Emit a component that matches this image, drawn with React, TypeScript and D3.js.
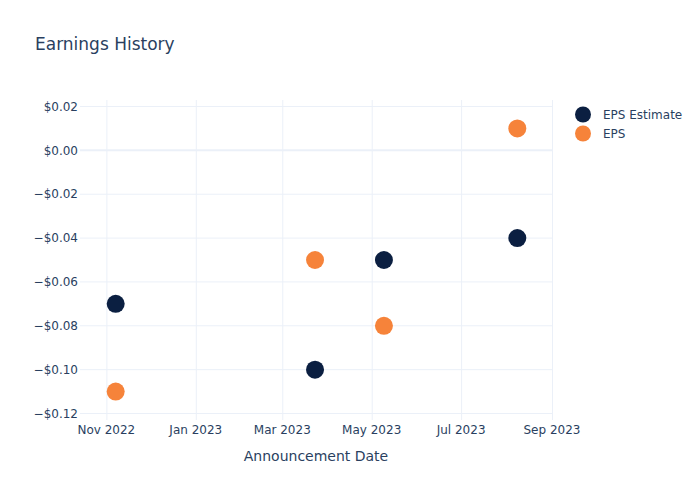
import * as d3 from "d3";

const WIDTH = 700;
const HEIGHT = 500;
const PLOT = { left: 80, right: 552, top: 100, bottom: 420 };

const announcementDates = ["2022-11-07", "2023-03-23", "2023-05-09", "2023-08-08"];
const epsEstimate = [-0.07, -0.1, -0.05, -0.04];
const epsActual = [-0.11, -0.05, -0.08, 0.01];

const yTicks = [0.02, 0, -0.02, -0.04, -0.06, -0.08, -0.1, -0.12];
const xTicks = ["2022-11-01", "2023-01-01", "2023-03-01", "2023-05-01", "2023-07-01", "2023-09-01"];

const ESTIMATE_COLOR = "#0b1f41";
const EPS_COLOR = "#f6833a";
const TEXT_COLOR = "#2a3f5f";
const GRID_COLOR = "#ebf0f8";

const parse = d3.utcParse("%Y-%m-%d");

const series = [
  { name: "EPS Estimate", values: epsEstimate, color: ESTIMATE_COLOR },
  { name: "EPS", values: epsActual, color: EPS_COLOR },
];

const fmtMoney = (v: number) => {
  const s = "$" + Math.abs(v).toFixed(2);
  return v < -1e-9 ? "\u2212" + s : s;
};

export default function App() {
  const xScale = d3
    .scaleUtc()
    .domain([parse("2022-10-14")!, parse("2023-09-01")!])
    .range([PLOT.left, PLOT.right]);

  const yScale = d3
    .scaleLinear()
    .domain([-0.12319, 0.02274])
    .range([PLOT.bottom, PLOT.top]);

  const fmtDate = d3.utcFormat("%b %Y");

  return (
    <svg
      width={WIDTH}
      height={HEIGHT}
      style={{ position: "absolute", left: 0, top: 0, fontFamily: "'DejaVu Sans', sans-serif" }}
    >
      <rect width={WIDTH} height={HEIGHT} fill="#fff" />
      <text x={35} y={50} fontSize={17} fill={TEXT_COLOR}>
        Earnings History
      </text>

      {/* grid */}
      {xTicks.map((t) => {
        const x = xScale(parse(t)!) + 0.5;
        return (
          <line key={t} x1={x} x2={x} y1={PLOT.top} y2={PLOT.bottom} stroke={GRID_COLOR} strokeWidth={1} />
        );
      })}
      {yTicks.map((t) => {
        const y = yScale(t) + 0.5;
        return (
          <line
            key={t}
            x1={PLOT.left}
            x2={PLOT.right}
            y1={y}
            y2={y}
            stroke={GRID_COLOR}
            strokeWidth={t === 0 ? 2 : 1}
          />
        );
      })}

      {/* y tick labels */}
      {yTicks.map((t) => (
        <text
          key={t}
          x={PLOT.left - 2}
          y={yScale(t) + 0.5}
          dy="0.35em"
          textAnchor="end"
          fontSize={12}
          fill={TEXT_COLOR}
        >
          {fmtMoney(t)}
        </text>
      ))}

      {/* x tick labels */}
      {xTicks.map((t) => (
        <text
          key={t}
          x={xScale(parse(t)!)}
          y={PLOT.bottom + 14}
          textAnchor="middle"
          fontSize={12}
          fill={TEXT_COLOR}
        >
          {fmtDate(parse(t)!)}
        </text>
      ))}

      <text
        x={(PLOT.left + PLOT.right) / 2}
        y={461}
        textAnchor="middle"
        fontSize={14}
        fill={TEXT_COLOR}
      >
        Announcement Date
      </text>

      {/* markers */}
      {series.map((s) => (
        <g key={s.name}>
          {s.values.map((v, i) => (
            <circle
              key={i}
              cx={xScale(parse(announcementDates[i])!) + 0.5}
              cy={yScale(v) + 0.5}
              r={9}
              fill={s.color}
            />
          ))}
        </g>
      ))}

      {/* legend */}
      {series.map((s, i) => (
        <g key={s.name} transform={`translate(583, ${114.5 + i * 19})`}>
          <circle r={8} fill={s.color} />
          <text x={20} dy="0.35em" fontSize={12} fill={TEXT_COLOR}>
            {s.name}
          </text>
        </g>
      ))}
    </svg>
  );
}
